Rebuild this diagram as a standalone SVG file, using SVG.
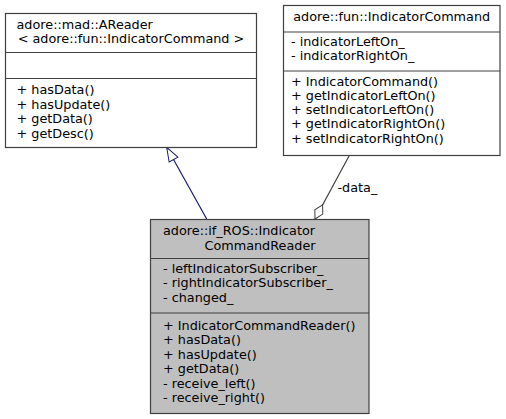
<svg xmlns="http://www.w3.org/2000/svg" width="506" height="419" viewBox="0 0 506 419">
<style>
text{font-family:"DejaVu Sans","Liberation Sans",sans-serif;font-size:12.8px;fill:#000}
.box{stroke:#404040;stroke-width:1.2}
.sep{stroke:#404040;stroke-width:1.2}
.c{text-anchor:middle}
</style>
<defs>
<marker id="inh" markerUnits="userSpaceOnUse" markerWidth="16" markerHeight="12" refX="15" refY="6" orient="auto">
<path d="M1,1 L15,6 L1,11 Z" fill="#fff" stroke="#191970" stroke-width="1"/>
</marker>
<marker id="agg" markerUnits="userSpaceOnUse" markerWidth="20" markerHeight="12" refX="1" refY="6" orient="auto">
<path d="M1,6 L9,1.5 L17,6 L9,10.5 Z" fill="#fff" stroke="#404040" stroke-width="1"/>
</marker>
</defs>
<rect width="506" height="419" fill="#fff"/>
<g id="connectors">
<line x1="206.7" y1="219" x2="166.7" y2="147.3" stroke="#191970" stroke-width="1.2" marker-end="url(#inh)"/>
<line x1="315" y1="219" x2="349.3" y2="155.5" stroke="#404040" stroke-width="1.2" marker-start="url(#agg)"/>
<text x="337.5" y="192">-data_</text>
</g>
<g id="AReader">
<rect class="box" x="5.5" y="13.5" width="251" height="134" fill="#fff"/>
<line class="sep" x1="5.5" y1="52.5" x2="256.5" y2="52.5"/>
<line class="sep" x1="5.5" y1="78.5" x2="256.5" y2="78.5"/>
<text x="16.5" y="28.5">adore::mad::AReader</text>
<text class="c" x="131" y="43">&lt; adore::fun::IndicatorCommand &gt;</text>
<text x="16.5" y="94">+ hasData()</text>
<text x="16.5" y="108.5">+ hasUpdate()</text>
<text x="16.5" y="123">+ getData()</text>
<text x="16.5" y="137.5">+ getDesc()</text>
</g>
<g id="IndicatorCommand">
<rect class="box" x="283.5" y="5.5" width="216.5" height="150" fill="#fff"/>
<line class="sep" x1="283.5" y1="32" x2="500" y2="32"/>
<line class="sep" x1="283.5" y1="71" x2="500" y2="71"/>
<text class="c" x="391.7" y="20.5">adore::fun::IndicatorCommand</text>
<text x="291" y="45.5">- indicatorLeftOn_</text>
<text x="291" y="60">- indicatorRightOn_</text>
<text x="291" y="85.5">+ IndicatorCommand()</text>
<text x="291" y="99.8">+ getIndicatorLeftOn()</text>
<text x="291" y="114.1">+ setIndicatorLeftOn()</text>
<text x="291" y="128.4">+ getIndicatorRightOn()</text>
<text x="291" y="142.7">+ setIndicatorRightOn()</text>
</g>
<g id="IndicatorCommandReader">
<rect class="box" x="150.5" y="219.5" width="218.5" height="194" fill="#bfbfbf"/>
<line class="sep" x1="150.5" y1="258.5" x2="369" y2="258.5"/>
<line class="sep" x1="150.5" y1="313" x2="369" y2="313"/>
<text x="163" y="234.5">adore::if_ROS::Indicator</text>
<text class="c" x="260" y="249.5">CommandReader</text>
<text x="163" y="272.5">- leftIndicatorSubscriber_</text>
<text x="163" y="287">- rightIndicatorSubscriber_</text>
<text x="163" y="301.5">- changed_</text>
<text x="163" y="329.5">+ IndicatorCommandReader()</text>
<text x="163" y="344">+ hasData()</text>
<text x="163" y="358.5">+ hasUpdate()</text>
<text x="163" y="373">+ getData()</text>
<text x="163" y="387.5">- receive_left()</text>
<text x="163" y="402">- receive_right()</text>
</g>
</svg>
